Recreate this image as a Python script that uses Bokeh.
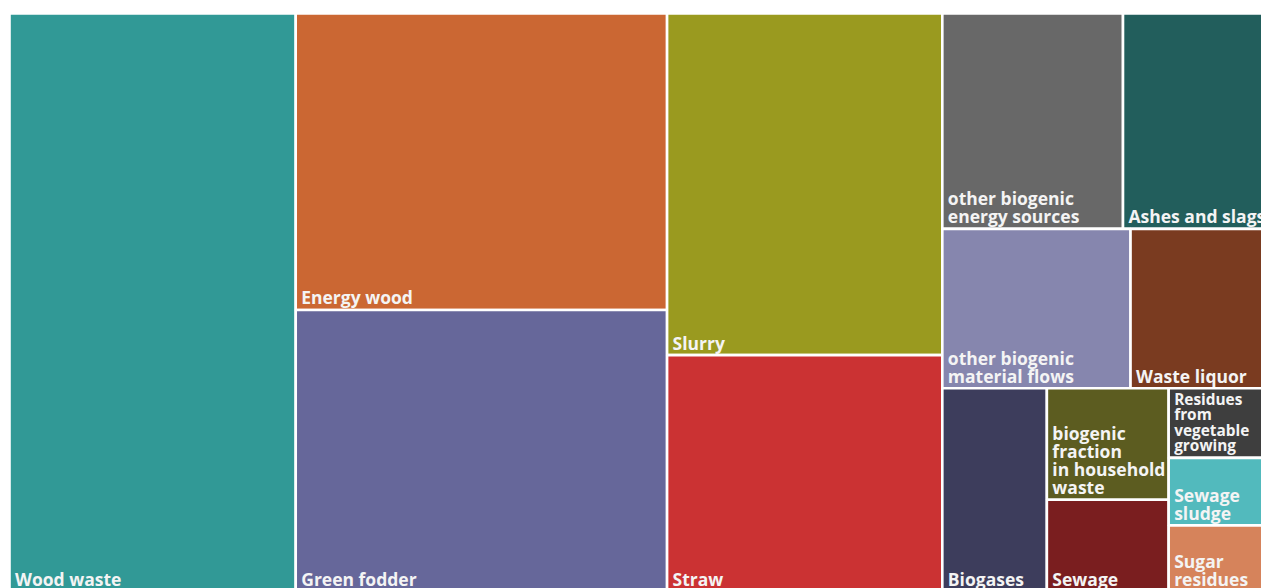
from bokeh.plotting import figure
from bokeh.models import Range1d, ColumnDataSource
from bokeh.embed import file_html
from bokeh.resources import INLINE
from bokeh.core.properties import value

# ---- data (shares in %) ----
categories = ["Wood waste", "Energy wood", "Green fodder", "Slurry", "Straw",
              "other biogenic energy sources", "Ashes and slags",
              "other biogenic material flows", "Waste liquor", "Biogases",
              "biogenic fraction in household waste", "Sewage",
              "Residues from vegetable growing", "Sewage sludge", "Sugar residues"]
shares = [22.66, 15.08, 14.32, 12.88, 8.91, 5.33, 4.41, 4.11, 3.10, 2.91,
          1.86, 1.53, 0.99, 0.96, 0.94]
labels = ["Wood waste", "Energy wood", "Green fodder", "Slurry", "Straw",
          "other biogenic\nenergy sources", "Ashes and slags",
          "other biogenic\nmaterial flows", "Waste liquor", "Biogases",
          "biogenic\nfraction\nin household\nwaste", "Sewage",
          "Residues\nfrom\nvegetable\ngrowing", "Sewage\nsludge", "Sugar\nresidues"]
colors = ["#319996", "#CB6733", "#66679A", "#9A9A1F", "#CB3233",
          "#686868", "#225E5C", "#8686AE", "#7A3B20", "#3D3D5C",
          "#5C5C20", "#7A1E1F", "#3E3E3E", "#52BABD", "#D6835B"]

# ---- squarified treemap layout ----
X0, Y0, W, H = 9.0, 13.0, 1263.0, 578.0


def worst(row, w):
    s = sum(row)
    return max(max(w * w * r / (s * s), s * s / (w * w * r)) for r in row)


def squarify(vals, x, y, dx, dy):
    tot = sum(vals)
    vals = [v * dx * dy / tot for v in vals]
    rects = []
    i = 0
    while i < len(vals):
        side = min(dx, dy)
        row = [vals[i]]
        j = i + 1
        while j < len(vals) and worst(row + [vals[j]], side) <= worst(row, side):
            row.append(vals[j])
            j += 1
        s = sum(row)
        if dx >= dy:
            cw = s / dy
            yy = y
            for r in row:
                h = r / cw
                rects.append((x, yy, cw, h))
                yy += h
            x += cw
            dx -= cw
        else:
            rh = s / dx
            xx = x
            for r in row:
                ww = r / rh
                rects.append((xx, y, ww, rh))
                xx += ww
            y += rh
            dy -= rh
        i = j
    return rects


rects = squarify(shares, X0, Y0, W, H)

rect_src = ColumnDataSource(dict(
    left=[r[0] for r in rects],
    right=[r[0] + r[2] for r in rects],
    top=[r[1] for r in rects],
    bottom=[r[1] + r[3] for r in rects],
    color=colors,
    name=categories,
))

tx, ty, tt, tfs = [], [], [], []
for (x, y, w, h), lab in zip(rects, labels):
    lines = lab.split("\n")
    n = len(lines)
    lh = min(18.0, (h - 8) / n)
    fs = min(17.5, lh)
    base = y + h - 12.5
    for k, line in enumerate(lines):
        tx.append(x + 5.5)
        ty.append(base - (n - 1 - k) * lh)
        tt.append(line)
        tfs.append("%.1fpx" % fs)

text_src = ColumnDataSource(dict(x=tx, y=ty, text=tt, fs=tfs))

PW, PH = 1261, 588
p = figure(width=PW, height=PH, output_backend="svg", toolbar_location=None,
           x_range=Range1d(0, PW), y_range=Range1d(PH, 0),
           x_axis_location=None, y_axis_location=None, min_border=0)
p.grid.visible = False
p.outline_line_color = None
p.background_fill_color = "white"
p.border_fill_color = "white"

p.quad(left="left", right="right", top="top", bottom="bottom", source=rect_src,
       fill_color="color", line_color="white", line_width=2.6)
p.text(x="x", y="y", text="text", source=text_src, text_color="#F4F4F4",
       text_font=value("Open Sans"), text_font_style="bold",
       text_font_size="fs", text_baseline="alphabetic", text_align="left")

open("out.html", "w").write(file_html(p, INLINE))
